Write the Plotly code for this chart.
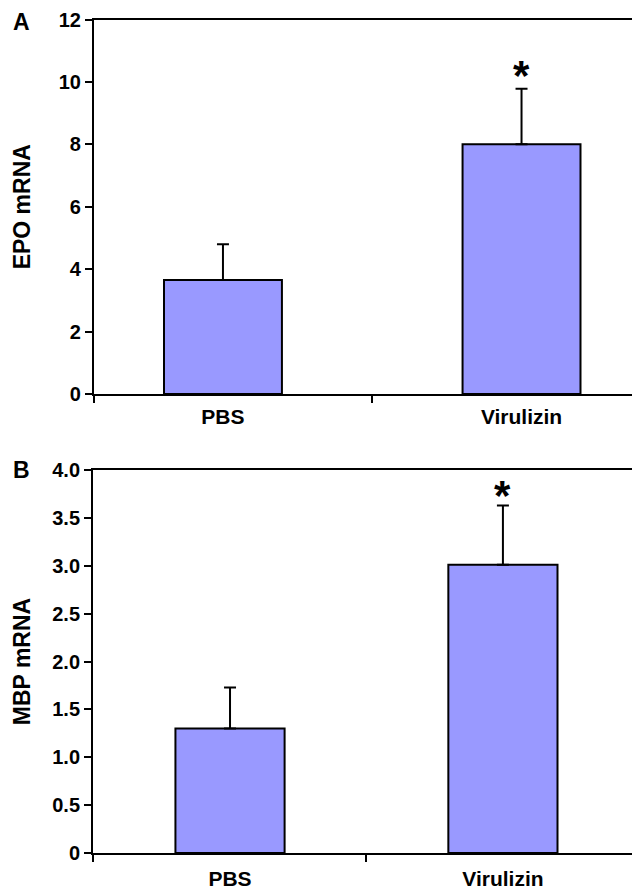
import plotly.graph_objects as go

categories = ["PBS", "Virulizin"]
epo_values = [3.65, 8.0]
epo_errors = [1.15, 1.78]
mbp_values = [1.30, 3.01]
mbp_errors = [0.43, 0.62]
significant = [False, True]

BAR_COLOR = "#9999FF"
FONT = "Liberation Sans, Arial, sans-serif"

fig = go.Figure()
xpos = list(range(len(categories)))

panels = [
    dict(vals=epo_values, errs=epo_errors, xa="x", ya="y", title="EPO mRNA",
         yrange=[0, 12], dtick=2, fmt="d", xrange=[-0.432, 1.37],
         xdom=[0.1487, 1.0], ydom=[0.5578, 0.9781], letter="A", bw=0.395,
         ast_shift=6, letter_y=0.975, standoff=3, tstand=22),
    dict(vals=mbp_values, errs=mbp_errors, xa="x2", ya="y2", title="MBP mRNA",
         yrange=[0, 4.0], dtick=0.5, fmt=".1f", xrange=[-0.502, 1.473],
         xdom=[0.1472, 1.0], ydom=[0.0426, 0.4725], letter="B", bw=0.40,
         ast_shift=2, letter_y=0.4725, standoff=6, tstand=15),
]

layout = dict(
    width=632, height=891, margin=dict(l=0, r=0, t=0, b=0, autoexpand=False),
    paper_bgcolor="white", plot_bgcolor="white", showlegend=False,
    font=dict(family=FONT, color="black"),
)
annotations = []
for i, p in enumerate(panels):
    fig.add_trace(go.Bar(
        x=xpos, y=p["vals"], width=p["bw"],
        marker=dict(color=BAR_COLOR, line=dict(color="black", width=2)),
        error_y=dict(type="data", array=p["errs"], arrayminus=[0] * len(p["errs"]),
                     symmetric=False, color="black", thickness=2, width=6),
        xaxis=p["xa"], yaxis=p["ya"],
    ))
    suffix = "" if i == 0 else "2"
    nt = int(round((p["yrange"][1] - p["yrange"][0]) / p["dtick"])) + 1
    tickvals = [p["yrange"][0] + k * p["dtick"] for k in range(nt)]
    ticktext = ["0" if v == 0 else f"{v:{p['fmt']}}" if p["fmt"] != "d" else str(int(v)) for v in tickvals]
    layout["xaxis" + suffix] = dict(
        domain=p["xdom"], range=p["xrange"], anchor="y" + suffix, automargin=False,
        showline=True, linecolor="black", linewidth=2, mirror=True,
        showgrid=False, zeroline=False,
        tickmode="array", tickvals=xpos, ticktext=categories, ticks="",
        tickfont=dict(family=FONT, size=21, weight="bold", color="black"),
        ticklabelstandoff=p["standoff"],
        minor=dict(tickmode="array", tickvals=[p["xrange"][0], 0.5], ticks="outside",
                   ticklen=7, tickwidth=2, tickcolor="black", showgrid=False),
    )
    layout["yaxis" + suffix] = dict(
        domain=p["ydom"], range=p["yrange"], anchor="x" + suffix, automargin=False,
        showline=True, linecolor="black", linewidth=2, mirror=False,
        showgrid=False, zeroline=False,
        tickmode="array", tickvals=tickvals, ticktext=ticktext,
        ticks="outside", ticklen=7, tickwidth=2, tickcolor="black",
        tickfont=dict(family=FONT, size=20, weight="bold", color="black"),
        title=dict(text=p["title"], standoff=p["tstand"],
                   font=dict(family=FONT, size=23, weight="bold", color="black")),
    )
    for j, sig in enumerate(significant):
        if sig:
            annotations.append(dict(
                x=xpos[j], y=p["vals"][j] + p["errs"][j], xref=p["xa"], yref=p["ya"],
                text="*", showarrow=False, yanchor="bottom", yshift=p["ast_shift"] - 18,
                font=dict(family=FONT, size=42, weight="bold", color="black"),
            ))
    annotations.append(dict(
        x=0.034, y=p["letter_y"], xref="paper", yref="paper",
        text=p["letter"], showarrow=False, xanchor="center", yanchor="middle",
        font=dict(family=FONT, size=23, weight="bold", color="black"),
    ))

layout["annotations"] = annotations
fig.update_layout(**layout)
fig.write_html("out.html")
